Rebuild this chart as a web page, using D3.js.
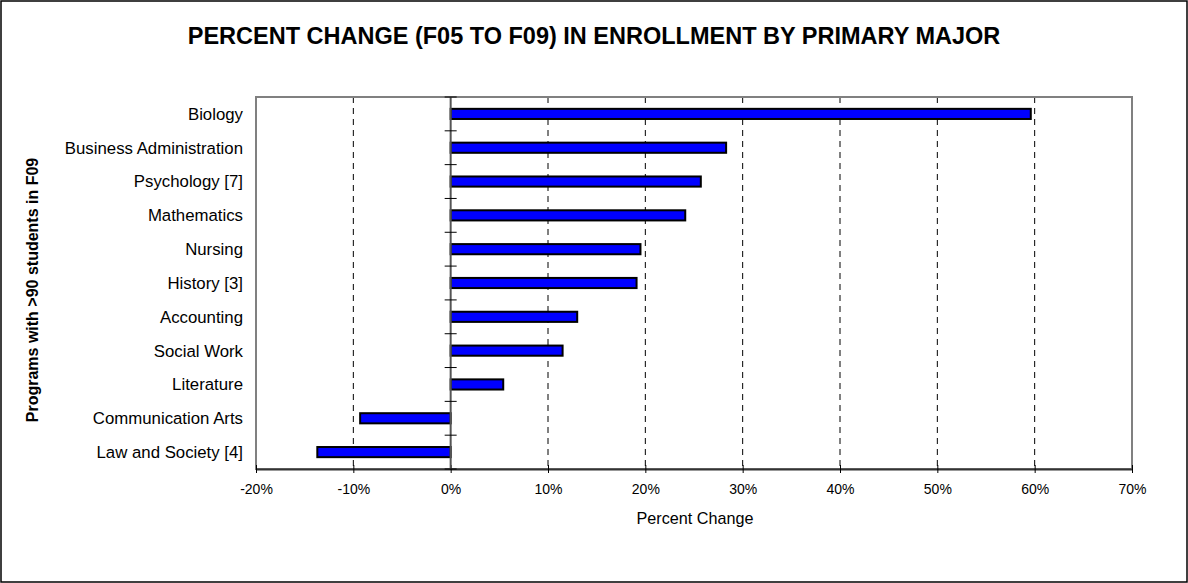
<!DOCTYPE html>
<html><head><meta charset="utf-8">
<script src="https://cdn.jsdelivr.net/npm/d3@7"></script>
<style>body{margin:0;background:#fff;}svg{display:block;font-family:"Liberation Sans",Arial,sans-serif;}</style>
</head><body>
<svg id="c" width="1188" height="583"></svg>
<script>
const categories = ["Biology","Business Administration","Psychology [7]","Mathematics","Nursing","History [3]","Accounting","Social Work","Literature","Communication Arts","Law and Society [4]"];
const values = [59.6, 28.3, 25.7, 24.1, 19.5, 19.1, 13.0, 11.5, 5.4, -9.3, -13.7];
const xTicks = [-20,-10,0,10,20,30,40,50,60,70];

const svg = d3.select("#c");
svg.append("rect").attr("x",1).attr("y",1).attr("width",1186).attr("height",581).attr("fill","#fff").attr("stroke","#000").attr("stroke-width",1.5);

const L=256, R=1132, T=97, B=469;
const x = d3.scaleLinear().domain([-20,70]).range([L,R]);
const y = d3.scaleBand().domain(categories).range([T,B]).paddingInner(0.7).paddingOuter(0.35);
const yb = d3.scaleBand().domain(categories).range([T,B]);

svg.append("text").attr("x",594).attr("y",44).attr("text-anchor","middle").attr("font-size","23.5px").attr("font-weight","bold").text("PERCENT CHANGE (F05 TO F09) IN ENROLLMENT BY PRIMARY MAJOR");

// gridlines
svg.append("g").selectAll("line").data(xTicks.filter(d=>d!==-20&&d!==0&&d!==70)).join("line")
  .attr("x1",d=>x(d)).attr("x2",d=>x(d)).attr("y1",T).attr("y2",B)
  .attr("stroke","#000").attr("stroke-width",1).attr("stroke-dasharray","6,5");

// plot border
svg.append("rect").attr("x",L).attr("y",T).attr("width",R-L).attr("height",B-T).attr("fill","none").attr("stroke","#808080").attr("stroke-width",2);

// bars
svg.append("g").selectAll("rect").data(categories).join("rect")
  .attr("x",(d,i)=>x(Math.min(0,values[i])))
  .attr("width",(d,i)=>Math.abs(x(values[i])-x(0)))
  .attr("y",d=>y(d)).attr("height",y.bandwidth())
  .attr("fill","#0000ff").attr("stroke","#000").attr("stroke-width",2);

// x axis
const xa = svg.append("g").attr("transform",`translate(0,${B})`)
  .call(d3.axisBottom(x).tickValues(xTicks).tickFormat(d=>d+"%").tickSizeInner(4).tickSizeOuter(0).tickPadding(11));
xa.select(".domain").attr("stroke","#333").attr("stroke-width",2);
xa.selectAll(".tick line").attr("stroke","#000").attr("y1",-4).attr("y2",4);
xa.selectAll("text").attr("font-size","14px").attr("fill","#000").attr("font-family","Liberation Sans, Arial, sans-serif");

// y axis at zero with ticks at category boundaries
const zeroX = x(0);
svg.append("line").attr("x1",zeroX).attr("x2",zeroX).attr("y1",T).attr("y2",B).attr("stroke","#555").attr("stroke-width",2);
const bounds = categories.map(c=>yb(c)).concat([B]);
svg.append("g").selectAll("line").data(bounds).join("line")
  .attr("x1",zeroX-6).attr("x2",zeroX+6).attr("y1",d=>d).attr("y2",d=>d)
  .attr("stroke","#000").attr("stroke-width",1);

// category labels
svg.append("g").selectAll("text").data(categories).join("text")
  .attr("x",243).attr("y",d=>yb(d)+yb.bandwidth()/2).attr("dy","0.35em")
  .attr("text-anchor","end").attr("font-size","16.8px").text(d=>d);

svg.append("text").attr("x",695).attr("y",524).attr("text-anchor","middle").attr("font-size","16.2px").text("Percent Change");
svg.append("text").attr("transform",`translate(38,290) rotate(-90)`).attr("text-anchor","middle").attr("font-size","16px").attr("font-weight","bold").text("Programs with >90 students in F09");
</script>
</body></html>
